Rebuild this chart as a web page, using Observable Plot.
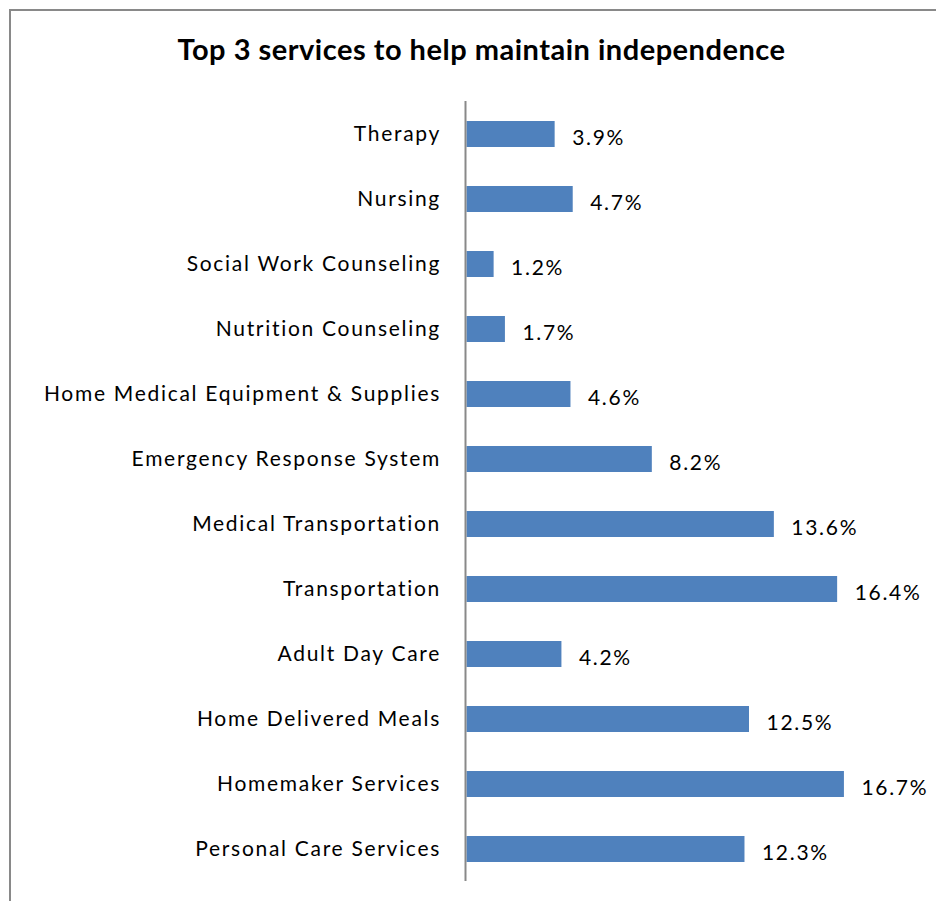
<!DOCTYPE html>
<html>
<head>
<meta charset="utf-8">
<script src="https://cdn.jsdelivr.net/npm/d3@7"></script>
<script src="https://cdn.jsdelivr.net/npm/@observablehq/plot@0.6"></script>
<style>
  body { margin: 0; background: #fff; }
  #wrap { position: relative; width: 936px; height: 901px; overflow: hidden; background: #fff; }
  #frame { position: absolute; left: 9px; top: 9px; width: 1000px; height: 1000px; border: 2px solid #898989; box-sizing: border-box; }
  #title { position: absolute; left: 0; top: 0; width: 936px; height: 90px; box-sizing: border-box; padding-left: 27px; text-align: center; font-family: Lato, sans-serif; font-weight: bold; font-size: 29px; letter-spacing: 0.5px; line-height: 1; padding-top: 34px; color: #000; }
  #chart { position: absolute; left: 0; top: 90px; }
</style>
</head>
<body>
<div id="wrap">
  <div id="frame"></div>
  <div id="title">Top 3 services to help maintain independence</div>
  <div id="chart"></div>
</div>
<script>
const categories = [
  "Therapy",
  "Nursing",
  "Social Work Counseling",
  "Nutrition Counseling",
  "Home Medical Equipment & Supplies",
  "Emergency Response System",
  "Medical Transportation",
  "Transportation",
  "Adult Day Care",
  "Home Delivered Meals",
  "Homemaker Services",
  "Personal Care Services"
];
const values = [3.9, 4.7, 1.2, 1.7, 4.6, 8.2, 13.6, 16.4, 4.2, 12.5, 16.7, 12.3];
const valueLabels = ["3.9%", "4.7%", "1.2%", "1.7%", "4.6%", "8.2%", "13.6%", "16.4%", "4.2%", "12.5%", "16.7%", "12.3%"];

const data = categories.map((c, i) => ({category: c, value: values[i], label: valueLabels[i]}));

const chart = Plot.plot({
  width: 936,
  height: 811,
  marginTop: 11,
  marginBottom: 20,
  marginLeft: 466.5,
  marginRight: 17.5,
  style: {fontFamily: "Lato, sans-serif", fontSize: "21px", color: "#000", background: "transparent"},
  x: {domain: [0, 20], axis: null},
  y: {domain: categories, paddingInner: 0.6, paddingOuter: 0.3, label: null},
  marks: [
    Plot.barX(data, {x: "value", y: "category", fill: "#4F81BD"}),
    Plot.text(data, {x: "value", y: "category", text: "label", textAnchor: "start", dx: 17, dy: 4, fontSize: 21, fill: "#000"}),
    Plot.axisY({tickSize: 0, tickPadding: 26, fontSize: 21, label: null}),
    Plot.ruleX([0], {stroke: "#898989", strokeWidth: 2, dx: -1.5})
  ]
});
chart.querySelectorAll("text").forEach(t => t.style.letterSpacing = "1.7px");
document.getElementById("chart").appendChild(chart);
</script>
</body>
</html>
